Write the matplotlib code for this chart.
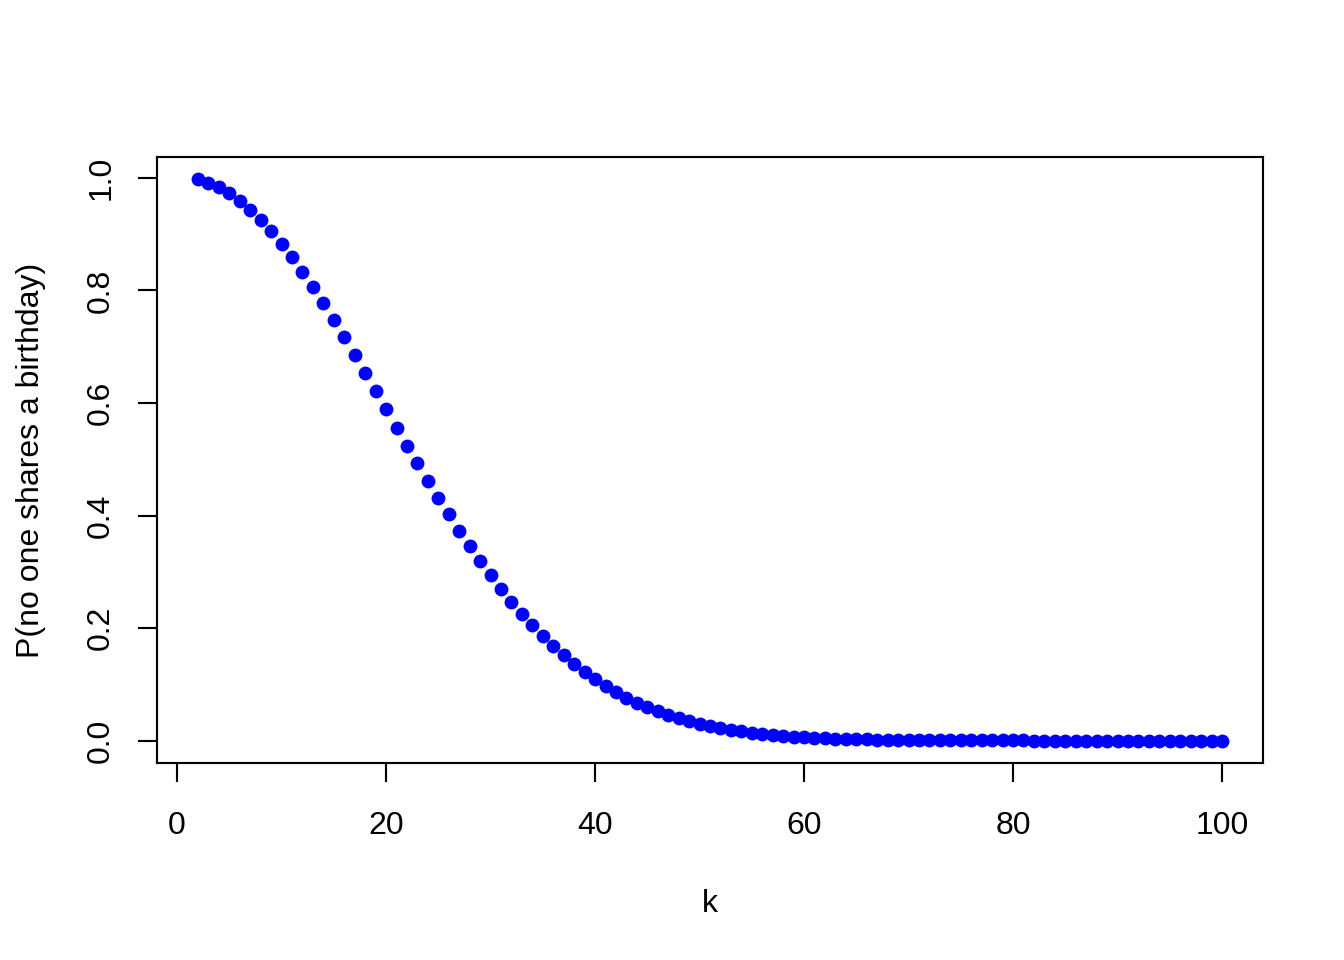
import numpy as np
import matplotlib
matplotlib.use('Agg')
import matplotlib.pyplot as plt

plt.rcParams['font.family'] = ['Liberation Sans', 'DejaVu Sans']

# group size k and probability that no one shares a birthday
k = list(range(2, 101))
p_none = [
    0.9973, 0.9918, 0.9836, 0.9729, 0.9595, 0.9438, 0.9257, 0.9054, 0.8831,
    0.8589, 0.8330, 0.8056, 0.7769, 0.7471, 0.7164, 0.6850, 0.6531, 0.6209,
    0.5886, 0.5563, 0.5243, 0.4927, 0.4617, 0.4313, 0.4018, 0.3731, 0.3455,
    0.3190, 0.2937, 0.2695, 0.2467, 0.2250, 0.2047, 0.1856, 0.1678, 0.1513,
    0.1359, 0.1218, 0.1088, 0.0969, 0.0860, 0.0761, 0.0671, 0.0590, 0.0517,
    0.0452, 0.0394, 0.0342, 0.0296, 0.0256, 0.0220, 0.0189, 0.0161, 0.0137,
    0.0117, 0.0099, 0.0083, 0.0070, 0.0059, 0.0049, 0.0041, 0.0034, 0.0028,
    0.0023, 0.0019, 0.0016, 0.0013, 0.0010, 0.0008, 0.0007, 0.0006, 0.0004,
    0.0004, 0.0003, 0.0002, 0.0002, 0.0001, 0.0001, 0.0001, 0.0001, 0.0000,
    0.0000, 0.0000, 0.0000, 0.0000, 0.0000, 0.0000, 0.0000, 0.0000, 0.0000,
    0.0000, 0.0000, 0.0000, 0.0000, 0.0000, 0.0000, 0.0000, 0.0000, 0.0000,
]
x_ticks = [0, 20, 40, 60, 80, 100]
y_ticks = [0.0, 0.2, 0.4, 0.6, 0.8, 1.0]

fig = plt.figure(figsize=(7, 5), dpi=192)
ax = fig.add_axes([157/1344, 1 - 763/960, (1263 - 157)/1344, (763 - 157)/960])

ax.plot(k, p_none, linestyle='none', marker='o', markersize=5.2,
        color='blue', markeredgewidth=0)

# R style: 4% padding on the data range
xr = max(k) - min(k)
ax.set_xlim(min(k) - 0.04*xr, max(k) + 0.04*xr)
yr = max(p_none) - min(p_none)
ax.set_ylim(min(p_none) - 0.04*yr, max(p_none) + 0.04*yr)

ax.set_xticks(x_ticks)
ax.set_xticklabels([str(v) for v in x_ticks])
ax.set_yticks(y_ticks)
ax.set_yticklabels(['%.1f' % v for v in y_ticks], rotation=90, va='center')

ax.tick_params(direction='out', length=7.3, width=0.8, labelsize=12)
ax.tick_params(axis='x', pad=10.8)
ax.tick_params(axis='y', pad=8)
for s in ax.spines.values():
    s.set_linewidth(0.8)

ax.set_xlabel('k', fontsize=12, labelpad=18)
ax.set_ylabel('P(no one shares a birthday)', fontsize=12, labelpad=15)

fig.savefig('out.png', dpi=192)
